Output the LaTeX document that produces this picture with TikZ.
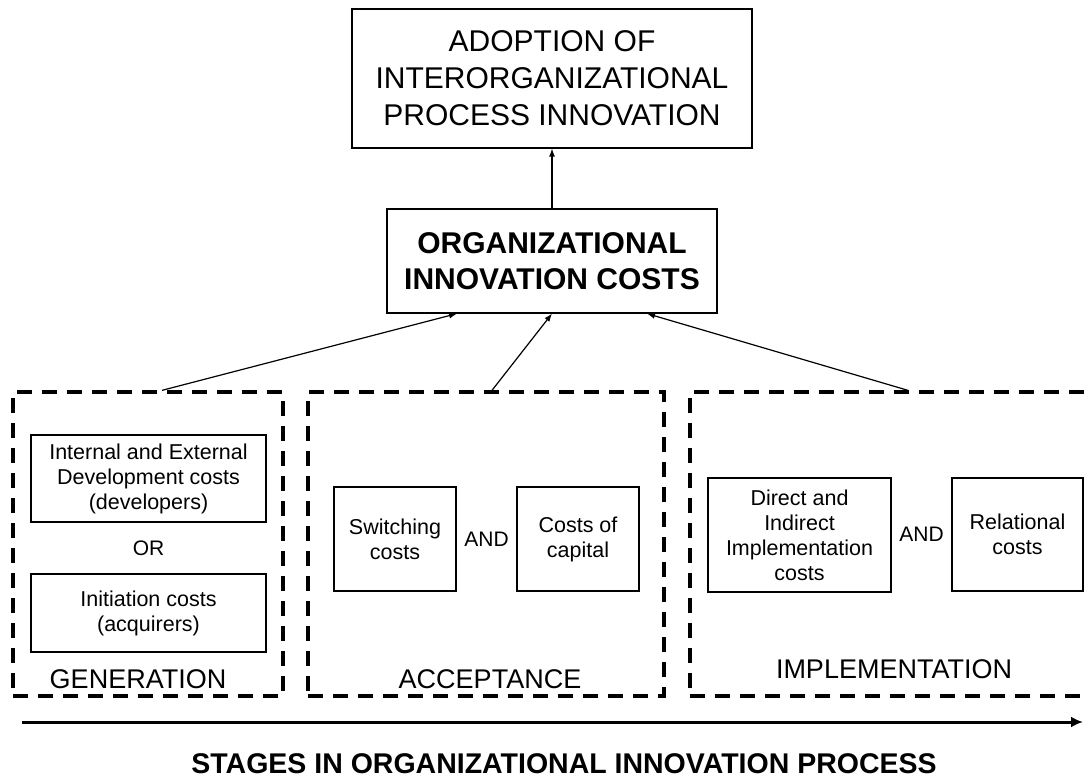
\documentclass[tikz,border=0pt]{standalone}
\usepackage{fontspec}
\setmainfont{Liberation Sans}
\usetikzlibrary{positioning}
\usetikzlibrary{calc}
\usetikzlibrary{arrows.meta}

\begin{document}
\begin{tikzpicture}[x=1pt, y=-1pt,
        costbox/.style={draw=black, line width=1.2pt, align=center, inner sep=0pt, font=\fontsize{21.5}{25}\selectfont},
        stagebox/.style={draw=black, line width=3.3pt, dash pattern=on 15pt off 10pt, inner sep=0pt, minimum height=304pt},
        stagelabel/.style={anchor=base, font=\fontsize{27}{30}\selectfont},
        joinlabel/.style={font=\fontsize{21}{25}\selectfont},
        link/.style={line width=1.2pt, -{Latex[length=8pt, width=6pt]}}]
            \useasboundingbox (0,0) rectangle (1085,778);

            \node[draw=black, line width=1.2pt, align=center, minimum width=400pt, minimum height=139pt, font=\fontsize{30}{37}\selectfont] (adoption) at (552,78.5) {ADOPTION OF\\INTERORGANIZATIONAL\\PROCESS INNOVATION};
            \node[draw=black, line width=1.2pt, align=center, minimum width=330pt, minimum height=104pt, font=\bfseries\fontsize{30}{36}\selectfont] (costs) at (552,261) {ORGANIZATIONAL\\INNOVATION COSTS};

            \node[stagebox, minimum width=270pt] (generation) at (148,544) {};
            \node[stagebox, minimum width=356pt] (acceptance) at (486,544) {};
            \node[stagebox, minimum width=420pt] (implementation) at (900,544) {};

            \node[costbox, minimum width=235pt, minimum height=87pt] (develop) at (148.5,478.5) {Internal and External\\Development costs\\(developers)};
            \node[costbox, minimum width=235pt, minimum height=78pt] (initiate) at (148.5,613) {Initiation costs\\(acquirers)};
            \node[joinlabel] (or) at ($(develop.south)!0.5!(initiate.north)$) {OR};

            \node[costbox, minimum width=122pt, minimum height=104pt] (switching) at (395,539) {Switching\\costs};
            \node[costbox, minimum width=122pt, minimum height=104pt] (capital) at (578,539) {Costs of\\capital};
            \node[joinlabel] (and_1) at ($(switching.east)!0.5!(capital.west)$) {AND};

            \node[costbox, minimum width=183pt, minimum height=114pt] (direct) at (799.5,535) {Direct and\\Indirect\\Implementation\\costs};
            \node[costbox, minimum width=131pt, minimum height=113pt] (relational) at (1017.5,534.5) {Relational\\costs};
            \node[joinlabel] (and_2) at ($(direct.east)!0.5!(relational.west)$) {AND};

            \node[stagelabel] (generation_label) at (138,688) {GENERATION};
            \node[stagelabel] (acceptance_label) at (490,688) {ACCEPTANCE};
            \node[stagelabel] (implementation_label) at (894,678) {IMPLEMENTATION};

            \draw[link] (costs) -- (adoption);
            \draw[link] ([xshift=14pt]generation.north) -- ([xshift=-95pt]costs.south);
            \draw[link] ([xshift=6pt]acceptance.north) -- (costs.south);
            \draw[link] ([xshift=8pt]implementation.north) -- ([xshift=95pt]costs.south);

            \coordinate (axis_start) at (22,722);
            \coordinate (axis_end) at (1083,722);
            \draw[line width=3pt, -{Latex[length=12pt, width=11pt]}] (axis_start) -- (axis_end);
            \node[anchor=base, font=\bfseries\fontsize{28.5}{32}\selectfont] (stages) at (564,773) {STAGES IN ORGANIZATIONAL INNOVATION PROCESS};
        \end{tikzpicture}
\end{document}
